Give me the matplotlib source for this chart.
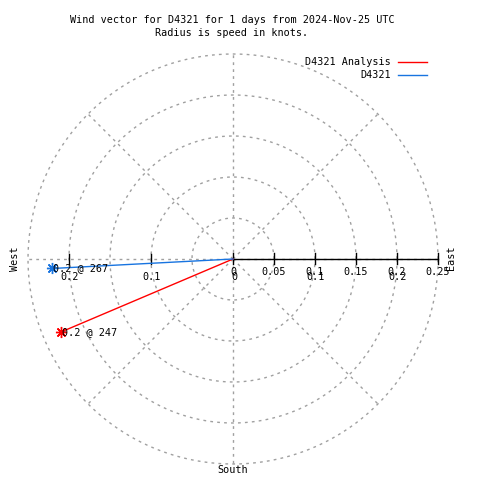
import numpy as np
import matplotlib
matplotlib.use("Agg")
import matplotlib.pyplot as plt

# ---- data ----
series_names = ["D4321 Analysis", "D4321"]
series_colors = ["#ff0000", "#1874e0"]
speeds = [0.228, 0.221]          # knots
directions = [247, 267]          # degrees (compass, clockwise from north)
ring_values = [0.05, 0.10, 0.15, 0.20, 0.25]
x_tick_values = [0, 0.05, 0.1, 0.15, 0.2, 0.25]
x_tick_labels = ["0", "0.05", "0.1", "0.15", "0.2", "0.25"]
r_tick_values = [-0.2, -0.1, 0, 0.1, 0.2]
r_tick_labels = ["0.2", "0.1", "0", "0.1", "0.2"]
spoke_angles = [0, 45, 90, 135, 180, 225, 270, 315]
title_lines = ["Wind vector for D4321 for 1 days from 2024-Nov-25 UTC",
               "Radius is speed in knots."]

FONT = "DejaVu Sans Mono"
FS = 7.3
W = H = 480
cx, cy = 233, 259
scale = 820.0  # px per knot
px = 1.0 / scale

fig = plt.figure(figsize=(4.8, 4.8), dpi=100)
ax = fig.add_axes([0, 0, 1, 1])
ax.set_xlim(-cx / scale, (W - cx) / scale)
ax.set_ylim(-(H - cy) / scale, cy / scale)
ax.axis("off")

grid_kw = dict(color="#a0a0a0", lw=1.0, linestyle=(0, (2, 3)))
# rings
t = np.linspace(0, 2 * np.pi, 721)
for r in ring_values:
    ax.plot(r * np.cos(t), r * np.sin(t), **grid_kw)
# spokes
rmax = ring_values[-1]
for a in spoke_angles:
    ar = np.deg2rad(a)
    ax.plot([0, rmax * np.cos(ar)], [0, rmax * np.sin(ar)], **grid_kw)

# black axis on the east side
ax.plot([0, x_tick_values[-1]], [0, 0], color="black", lw=1.0)
for v in x_tick_values:
    ax.plot([v, v], [-5 * px, 6 * px], color="black", lw=1.0)
for v in r_tick_values:
    if v < 0:
        ax.plot([v, v], [-5 * px, 5 * px], color="black", lw=1.0)

# tick labels
for v, lab in zip(x_tick_values, x_tick_labels):
    ax.text(v, -13 * px, lab, ha="center", va="center", family=FONT, fontsize=FS)
for v, lab in zip(r_tick_values, r_tick_labels):
    ax.text(v + 1 * px, -18 * px, lab, ha="center", va="center", family=FONT, fontsize=FS)

# compass labels
ax.text(-(cx - 15) * px, 0, "West", rotation=90, ha="center", va="center", family=FONT, fontsize=FS)
ax.text((451 - cx) * px, 1 * px, "East", rotation=90, ha="center", va="center", family=FONT, fontsize=FS)
ax.text(0, -(470 - cy) * px, "South", ha="center", va="center", family=FONT, fontsize=FS)

# vectors
for name, col, s, d in zip(series_names, series_colors, speeds, directions):
    dr = np.deg2rad(d)
    x, y = s * np.sin(dr), s * np.cos(dr)
    ax.plot([0, x], [0, y], color=col, lw=1.0)
    ax.plot([x], [y], marker=(8, 2, 0), color=col, markersize=8, mew=1.0, linestyle="none")
    ax.text(x + 1 * px, y, f"{s:.1f} @ {d}", ha="left", va="center", family=FONT, fontsize=FS)

# legend
for i, (name, col) in enumerate(zip(series_names, series_colors)):
    yy = (cy - (62 + 13 * i)) * px
    ax.text((391 - cx) * px, yy, name, ha="right", va="center", family=FONT, fontsize=FS)
    ax.plot([(398 - cx) * px, (427 - cx) * px], [yy, yy], color=col, lw=1.0)

# title
for i, line in enumerate(title_lines):
    fig.text(232 / W, 1 - (20 + 13 * i) / H, line, ha="center", va="center", family=FONT, fontsize=FS)

fig.savefig("out.png", dpi=100, facecolor="white")
